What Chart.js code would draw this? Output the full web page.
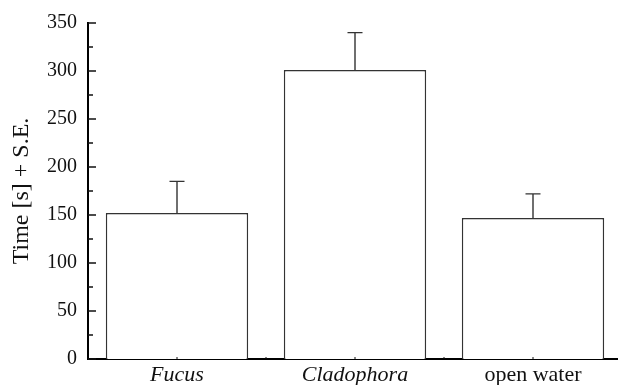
<!DOCTYPE html>
<html>
<head>
<meta charset="utf-8">
<script src="https://cdn.jsdelivr.net/npm/chart.js@4/dist/chart.umd.min.js"></script>
<style>
  html, body { margin: 0; padding: 0; background: #fff; overflow: hidden; }
  canvas { display: block; }
</style>
</head>
<body>
<!-- the plot area runs slightly past the right edge of the window, so the x axis line is cut there -->
<canvas id="chart" width="622" height="385"></canvas>
<script>
// Habitat categories and the mean time spent in each (seconds) with standard errors
const categories = ['Fucus', 'Cladophora', 'open water'];
const italicLabels = [true, true, false];
const meanTime = [152, 301, 147];
const stdError = [33, 39, 25];

// Y axis ticks (major are labelled, minor are unlabelled marks)
const yMajorTicks = [0, 50, 100, 150, 200, 250, 300, 350];
const yMinorTicks = [25, 75, 125, 175, 225, 275, 325];

const FONT = '"Liberation Serif", "Times New Roman", Times, serif';

// Upward-only error bars (+ S.E.) above each bar
const errorBars = {
  id: 'errorBars',
  afterDatasetsDraw(chart) {
    const ctx = chart.ctx;
    const y = chart.scales.y;
    const meta = chart.getDatasetMeta(0);
    ctx.save();
    ctx.strokeStyle = '#333';
    ctx.lineWidth = 1.4;
    meta.data.forEach((bar, i) => {
      const top = y.getPixelForValue(meanTime[i] + stdError[i]);
      ctx.beginPath();
      ctx.moveTo(bar.x, bar.y);
      ctx.lineTo(bar.x, top);
      ctx.moveTo(bar.x - 7.5, top);
      ctx.lineTo(bar.x + 7.5, top);
      ctx.stroke();
    });
    ctx.restore();
  }
};

// Inward tick marks on both axes
const innerTicks = {
  id: 'innerTicks',
  afterDraw(chart) {
    const ctx = chart.ctx;
    const { x, y } = chart.scales;
    const left = chart.chartArea.left;
    const bottom = chart.chartArea.bottom;
    ctx.save();
    ctx.strokeStyle = '#111';
    ctx.lineWidth = 1.5;
    ctx.beginPath();
    yMajorTicks.forEach(v => {
      const py = y.getPixelForValue(v);
      ctx.moveTo(left, py);
      ctx.lineTo(left + 8, py);
    });
    yMinorTicks.forEach(v => {
      const py = y.getPixelForValue(v);
      ctx.moveTo(left, py);
      ctx.lineTo(left + 5, py);
    });
    ctx.stroke();
    ctx.lineWidth = 1;
    ctx.beginPath();
    for (let i = 0; i < categories.length; i++) {
      [i, i + 0.5].forEach(v => {
        const px = x.getPixelForValue(v);
        ctx.moveTo(px, bottom);
        ctx.lineTo(px, bottom - 2);
      });
    }
    ctx.stroke();
    ctx.restore();
  }
};

new Chart(document.getElementById('chart'), {
  type: 'bar',
  data: {
    labels: categories,
    datasets: [{
      data: meanTime,
      backgroundColor: '#ffffff',
      borderColor: '#333',
      borderWidth: 1.5,
      borderSkipped: 'start',
      barPercentage: 0.8,
      categoryPercentage: 1.0
    }]
  },
  options: {
    responsive: false,
    animation: false,
    devicePixelRatio: 1,
    layout: { padding: { left: 0, top: 23, right: 0, bottom: 0 } },
    plugins: {
      legend: { display: false },
      tooltip: { enabled: false }
    },
    scales: {
      x: {
        grid: { display: false, drawTicks: false },
        border: { display: true, color: '#000', width: 2 },
        ticks: {
          color: '#111',
          padding: 3,
          maxRotation: 0,
          font: (c) => ({ family: FONT, size: 22, style: italicLabels[c.index] ? 'italic' : 'normal' })
        },
        afterFit(scale) { scale.height = 26; }
      },
      y: {
        min: 0,
        max: 350,
        grid: { display: false, drawTicks: false },
        border: { display: true, color: '#000', width: 2 },
        afterBuildTicks(scale) { scale.ticks = yMajorTicks.map(v => ({ value: v })); },
        ticks: {
          color: '#111',
          padding: 11,
          font: { family: FONT, size: 20 }
        },
        title: {
          display: true,
          text: 'Time [s] + S.E.',
          color: '#111',
          font: { family: FONT, size: 24 },
          padding: { top: 7, bottom: 0 }
        },
        afterFit(scale) { scale.width = 88; }
      }
    }
  },
  plugins: [errorBars, innerTicks]
});
</script>
</body>
</html>
